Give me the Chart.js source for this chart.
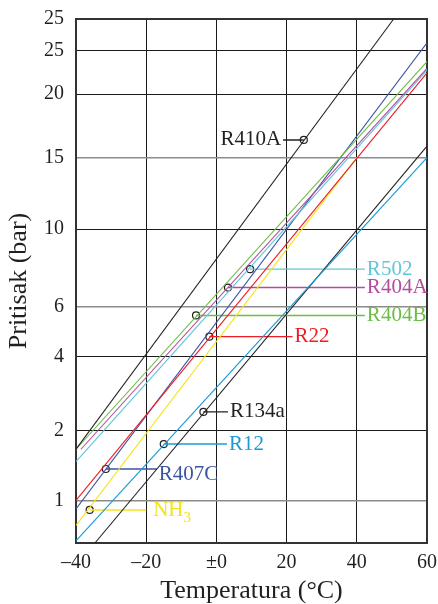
<!DOCTYPE html>
<html>
<head>
<meta charset="utf-8">
<script src="https://cdn.jsdelivr.net/npm/chart.js@4.4.1/dist/chart.umd.min.js"></script>
<style>
  html, body { margin: 0; padding: 0; background: #fff; }
  canvas { display: block; }
</style>
</head>
<body>
<canvas id="grafico" width="438" height="604"></canvas>
<script>
// refrigerants, in drawing order
const refrigerants = ["R410A", "R404B", "R404A", "R502", "R22", "R407C", "NH3", "R12", "R134a"];
const colors = ["#231f20", "#6cbd45", "#b24d9e", "#62c6d6", "#ee1c25", "#3b55a3", "#f5e41a", "#1b9ad6", "#231f20"];

// straight saturation lines: start and end (temperature °C, pressure bar)
const lineStartT = [-40, -40, -38.6, -40, -40, -40, -40, -40, -34.6];
const lineStartP = [1.66, 1.66, 1.66, 1.47, 1.0, 0.92, 0.78, 0.67, 0.656];
const lineEndT = [50.5, 60, 60, 60, 60, 60, 40, 60, 60];
const lineEndP = [30, 23.6, 22.8, 22.6, 22.3, 26.1, 15.0, 15.0, 15.8];

// marked points and where their leader ends
const markerT = [24.9, -5.8, 3.3, 9.6, -2.0, -31.5, -36.1, -15.0, -3.7];
const markerP = [16.25, 5.58, 6.80, 7.68, 4.70, 1.365, 0.91, 1.748, 2.38];
const labelT = [19.0, 42.3, 42.3, 42.3, 21.7, -17.0, -20.0, 3.0, 3.3];

// axes
const xTicks = [-40, -20, 0, 20, 40, 60];
const xTickLabels = ["\u201340", "\u201320", "\u00b10", "20", "40", "60"];
const yTicks = [1, 2, 4, 6, 10, 15, 20, 25, 30];
const yTickLabels = ["1", "2", "4", "6", "10", "15", "20", "25", "25"];
const grayGrid = [1, 6, 15];

// the pressure axis of the chart is not a plain log scale:
// knots of the axis (pressure -> share of the axis height)
const axisP = [0.656, 1, 2, 4, 6, 10, 15, 20, 25, 30];
const axisShare = [0, 0.0813, 0.2148, 0.3559, 0.4513, 0.5989, 0.7355, 0.8564, 0.9403, 1];

class PressureScale extends Chart.Scale {
  determineDataLimits() {
    this.min = axisP[0];
    this.max = axisP[axisP.length - 1];
  }
  buildTicks() {
    return yTicks.map(v => ({ value: v }));
  }
  getLabelForValue(v) {
    return String(v);
  }
  toShare(v) {
    const l = Math.log(v);
    let i = 0;
    while (i < axisP.length - 2 && l > Math.log(axisP[i + 1])) i++;
    const a = Math.log(axisP[i]), b = Math.log(axisP[i + 1]);
    return axisShare[i] + (l - a) / (b - a) * (axisShare[i + 1] - axisShare[i]);
  }
  fromShare(s) {
    let i = 0;
    while (i < axisShare.length - 2 && s > axisShare[i + 1]) i++;
    const a = Math.log(axisP[i]), b = Math.log(axisP[i + 1]);
    return Math.exp(a + (s - axisShare[i]) / (axisShare[i + 1] - axisShare[i]) * (b - a));
  }
  getPixelForValue(v) {
    return this.getPixelForDecimal(this.toShare(v));
  }
  getValueForPixel(px) {
    return this.fromShare(this.getDecimalForPixel(px));
  }
  getPixelForTick(index) {
    return this.getPixelForValue(this.ticks[index].value);
  }
}
PressureScale.id = "pressure";
PressureScale.defaults = {};
Chart.register(PressureScale);

Chart.defaults.font.family = "'Liberation Serif', 'Times New Roman', serif";
Chart.defaults.color = "#231f20";

// datasets
const datasets = [];
refrigerants.forEach((r, i) => {
  datasets.push({
    label: r,
    data: [{ x: lineStartT[i], y: lineStartP[i] }, { x: lineEndT[i], y: lineEndP[i] }],
    borderColor: colors[i],
    borderWidth: 1.1,
    pointRadius: 0,
    tension: 0
  });
});
refrigerants.forEach((r, i) => {
  datasets.push({
    label: r + " leader",
    data: [{ x: markerT[i], y: markerP[i] }, { x: labelT[i], y: markerP[i] }],
    borderColor: colors[i],
    borderWidth: 1.4,
    pointRadius: 0,
    tension: 0
  });
});
datasets.push({
  label: "markers",
  data: markerT.map((t, i) => ({ x: t, y: markerP[i] })),
  showLine: false,
  pointStyle: "circle",
  pointRadius: 3.5,
  borderWidth: 1.2,
  pointBorderColor: "#231f20",
  pointBackgroundColor: "rgba(255,255,255,0)"
});

// frame around the plot
const marco = {
  id: "marco",
  beforeDatasetsDraw(chart) {
    const { ctx, chartArea: a } = chart;
    ctx.save();
    ctx.strokeStyle = "#333";
    ctx.lineWidth = 2;
    ctx.strokeRect(a.left, a.top, a.right - a.left, a.bottom - a.top);
    ctx.restore();
  }
};

// labels at leader ends
const etiquetas = {
  id: "etiquetas",
  afterDatasetsDraw(chart) {
    const { ctx } = chart;
    const xs = chart.scales.x, ys = chart.scales.y;
    ctx.save();
    ctx.font = "21px 'Liberation Serif', serif";
    ctx.textBaseline = "middle";
    refrigerants.forEach((r, i) => {
      const px = xs.getPixelForValue(labelT[i]);
      let py = ys.getPixelForValue(markerP[i]);
      ctx.fillStyle = colors[i];
      if (labelT[i] < markerT[i]) {
        ctx.textAlign = "right";
        ctx.fillText(r, px - 2, py);
        return;
      }
      ctx.textAlign = "left";
      if (r === "R407C") py += 5;
      if (r === "NH3") {
        ctx.fillText("NH", px + 7, py + 1);
        const w = ctx.measureText("NH").width;
        ctx.font = "15px 'Liberation Serif', serif";
        ctx.fillText("3", px + 7 + w, py + 8);
        ctx.font = "21px 'Liberation Serif', serif";
        return;
      }
      ctx.fillText(r, px + 2, py);
    });
    ctx.restore();
  }
};

new Chart(document.getElementById("grafico").getContext("2d"), {
  type: "line",
  data: { datasets },
  options: {
    responsive: false,
    animation: false,
    layout: { padding: { top: 19, right: 11, left: 0, bottom: 0 } },
    plugins: { legend: { display: false }, tooltip: { enabled: false } },
    scales: {
      x: {
        type: "linear",
        min: -40,
        max: 60,
        afterBuildTicks: s => { s.ticks = xTicks.map(v => ({ value: v })); },
        afterFit: s => { s.height = 61; s.paddingLeft = 0; s.paddingRight = 0; },
        border: { display: false },
        grid: { color: "#1a1a1a", lineWidth: 1, drawTicks: false },
        ticks: {
          padding: 8,
          font: { size: 20 },
          callback: (v, i) => xTickLabels[i]
        },
        title: {
          display: true,
          text: "Temperatura (\u00b0C)",
          font: { size: 26, lineHeight: 1 },
          padding: { top: 0, bottom: 0 }
        }
      },
      y: {
        type: "pressure",
        position: "left",
        afterFit: s => { s.width = 76; s.paddingTop = 0; s.paddingBottom = 0; },
        border: { display: false },
        grid: {
          drawTicks: false,
          color: c => grayGrid.includes(c.tick && c.tick.value) ? "#8c8c8c" : "#1a1a1a",
          lineWidth: c => grayGrid.includes(c.tick && c.tick.value) ? 1.6 : 1
        },
        ticks: {
          autoSkip: false,
          padding: 12,
          font: { size: 20 },
          callback: (v, i) => yTickLabels[i]
        },
        title: {
          display: true,
          text: "Pritisak (bar)",
          font: { size: 26, lineHeight: 1 },
          padding: { top: 6, bottom: 0 }
        }
      }
    }
  },
  plugins: [marco, etiquetas]
});
</script>
</body>
</html>
